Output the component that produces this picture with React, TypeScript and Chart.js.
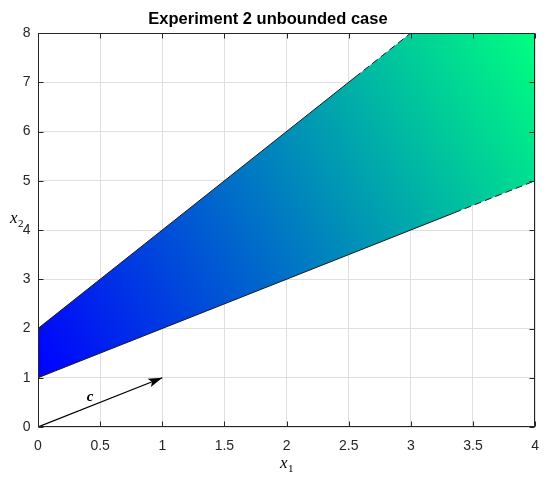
import React, { useEffect, useRef } from "react";
import { Chart, registerables } from "chart.js";

Chart.register(...registerables);

// Feasible region vertices (x1, x2), closed polygon
const regionX = [0, 0, 3, 4, 4, 0];
const regionY = [1, 2, 8, 8, 5, 1];

// Boundary lines: solid parts and dashed (unbounded direction) parts
const upperSolidX = [0, 2.55];
const upperSolidY = [2, 7.1];
const upperDashX = [2.55, 3];
const upperDashY = [7.1, 8];
const lowerSolidX = [0, 3.35];
const lowerSolidY = [1, 4.35];
const lowerDashX = [3.35, 4];
const lowerDashY = [4.35, 5];

// Cost vector arrow c
const arrowX = [0, 1];
const arrowY = [0, 1];
const cLabelX = 0.42;
const cLabelY = 0.6;

// Ticks
const xTicks = [0, 0.5, 1, 1.5, 2, 2.5, 3, 3.5, 4];
const xTickLabels = ["0", "0.5", "1", "1.5", "2", "2.5", "3", "3.5", "4"];
const yTicks = [0, 1, 2, 3, 4, 5, 6, 7, 8];
const yTickLabels = ["0", "1", "2", "3", "4", "5", "6", "7", "8"];

// Colour interpolation weights (colour ~ wX*x1 + wY*x2)
const colorWeightX = 4.5;
const colorWeightY = 1;

const TITLE = "Experiment 2 unbounded case";
const AXIS = "#262626";
const GRID = "#dfdfdf";
const TICK_FONT = { family: "'Liberation Sans', Arial, sans-serif", size: 14 };

function pts(xs: number[], ys: number[]) {
  return xs.map((x, i) => ({ x, y: ys[i] }));
}

function regionGradient(chart: any) {
  const { ctx, chartArea, scales } = chart;
  if (!chartArea || !scales.x || !scales.y) return "rgb(0,0,255)";
  const xs = scales.x;
  const ys = scales.y;
  const sx = xs.getPixelForValue(1) - xs.getPixelForValue(0);
  const sy = ys.getPixelForValue(0) - ys.getPixelForValue(1);
  const vals = regionX.map((x, i) => colorWeightX * x + colorWeightY * regionY[i]);
  const fmin = Math.min(...vals);
  const fmax = Math.max(...vals);
  const iMin = vals.indexOf(fmin);
  const p0x = xs.getPixelForValue(regionX[iMin]);
  const p0y = ys.getPixelForValue(regionY[iMin]);
  const gx = colorWeightX / sx;
  const gy = -colorWeightY / sy;
  const k = (fmax - fmin) / (gx * gx + gy * gy);
  const g = ctx.createLinearGradient(p0x, p0y, p0x + gx * k, p0y + gy * k);
  g.addColorStop(0, "rgb(0,0,255)");
  g.addColorStop(1, "rgb(0,255,128)");
  return g;
}

const overlayPlugin = {
  id: "overlay",
  afterDatasetsDraw(chart: any) {
    const { ctx, chartArea, scales } = chart;
    const xs = scales.x;
    const ys = scales.y;
    const { left, right, top, bottom } = chartArea;
    ctx.save();

    // Arrow head
    const x0 = xs.getPixelForValue(arrowX[0]);
    const y0 = ys.getPixelForValue(arrowY[0]);
    const x1 = xs.getPixelForValue(arrowX[1]);
    const y1 = ys.getPixelForValue(arrowY[1]);
    const ang = Math.atan2(y1 - y0, x1 - x0);
    const hl = 14;
    const hw = 4.5;
    const notch = 3;
    const cos = Math.cos(ang);
    const sin = Math.sin(ang);
    const bx = x1 - hl * cos;
    const by = y1 - hl * sin;
    ctx.fillStyle = "#000";
    ctx.beginPath();
    ctx.moveTo(x1, y1);
    ctx.lineTo(bx - hw * sin, by + hw * cos);
    ctx.lineTo(bx + notch * cos, by + notch * sin);
    ctx.lineTo(bx + hw * sin, by - hw * cos);
    ctx.closePath();
    ctx.fill();

    // c label
    ctx.font = "bold italic 15px 'Liberation Serif', serif";
    ctx.fillStyle = "#000";
    ctx.textAlign = "center";
    ctx.textBaseline = "alphabetic";
    ctx.fillText("c", xs.getPixelForValue(cLabelX), ys.getPixelForValue(cLabelY) + 4);

    // Box
    ctx.strokeStyle = AXIS;
    ctx.lineWidth = 1;
    const L = Math.round(left) + 0.5;
    const R = Math.round(right) - 0.5;
    const T = Math.round(top) + 0.5;
    const B = Math.round(bottom) - 0.5;
    ctx.strokeRect(L, T, R - L, B - T);

    // Inward ticks on all four sides
    const tl = 5;
    ctx.beginPath();
    xs.ticks.forEach((t: any) => {
      const px = Math.round(xs.getPixelForValue(t.value)) + 0.5;
      ctx.moveTo(px, B);
      ctx.lineTo(px, B - tl);
      ctx.moveTo(px, T);
      ctx.lineTo(px, T + tl);
    });
    ys.ticks.forEach((t: any) => {
      const py = Math.round(ys.getPixelForValue(t.value)) + 0.5;
      ctx.moveTo(L, py);
      ctx.lineTo(L + tl, py);
      ctx.moveTo(R, py);
      ctx.lineTo(R - tl, py);
    });
    ctx.stroke();

    // Axis labels x1 and x2
    const mainFont = "italic 17px 'Liberation Serif', serif";
    const subFont = "11px 'Liberation Serif', serif";
    ctx.fillStyle = "#000";
    ctx.textAlign = "left";
    ctx.textBaseline = "alphabetic";

    ctx.font = mainFont;
    const wx = ctx.measureText("x").width;
    ctx.font = subFont;
    const w1 = ctx.measureText("1").width;
    const cx = (left + right) / 2;
    const bx1 = cx - (wx + w1) / 2;
    const base1 = bottom + 41;
    ctx.font = mainFont;
    ctx.fillText("x", bx1, base1);
    ctx.font = subFont;
    ctx.fillText("1", bx1 + wx + 0.5, base1 + 3.5);

    const base2 = (top + bottom) / 2 - 7;
    ctx.font = mainFont;
    ctx.fillText("x", 10, base2);
    ctx.font = subFont;
    ctx.fillText("2", 10 + wx + 0.5, base2 + 3.5);

    ctx.restore();
  },
};

export default function App() {
  const ref = useRef<HTMLCanvasElement | null>(null);

  useEffect(() => {
    if (!ref.current) return;
    const lineStyle = {
      showLine: true,
      pointRadius: 0,
      borderColor: "#1a1a1a",
      borderWidth: 1,
      fill: false,
      order: 0,
    };
    const chart = new Chart(ref.current, {
      type: "scatter",
      data: {
        datasets: [
          { ...lineStyle, label: "upper", data: pts(upperSolidX, upperSolidY) },
          { ...lineStyle, label: "upperDash", data: pts(upperDashX, upperDashY), borderDash: [7, 4] },
          { ...lineStyle, label: "lower", data: pts(lowerSolidX, lowerSolidY) },
          { ...lineStyle, label: "lowerDash", data: pts(lowerDashX, lowerDashY), borderDash: [7, 4] },
          { ...lineStyle, label: "c", data: pts(arrowX, arrowY), borderColor: "#000", borderWidth: 1.2 },
          {
            label: "region",
            data: pts(regionX, regionY),
            showLine: true,
            pointRadius: 0,
            borderWidth: 0,
            borderColor: "rgba(0,0,0,0)",
            fill: "shape",
            backgroundColor: (c: any) => regionGradient(c.chart),
            order: 10,
          } as any,
        ],
      },
      options: {
        responsive: false,
        animation: false,
        devicePixelRatio: 1,
        layout: { padding: { left: 0, right: 14, top: 0, bottom: 0 } },
        plugins: {
          legend: { display: false },
          tooltip: { enabled: false },
          title: {
            display: true,
            text: TITLE,
            color: "#000",
            font: { family: "'Liberation Sans', Arial, sans-serif", size: 16.5, weight: "bold" },
            padding: { top: 9.6, bottom: 3.6 },
          },
        },
        scales: {
          x: {
            type: "linear",
            min: 0,
            max: 4,
            afterBuildTicks: (s: any) => {
              s.ticks = xTicks.map((v) => ({ value: v }));
            },
            afterFit: (s: any) => {
              s.height = 53;
            },
            ticks: {
              font: TICK_FONT,
              color: AXIS,
              padding: 11,
              maxRotation: 0,
              autoSkip: false,
              callback: (_v: any, i: number) => xTickLabels[i],
            },
            grid: { color: GRID, drawTicks: false, lineWidth: 1 },
            border: { display: false },
          },
          y: {
            type: "linear",
            min: 0,
            max: 8,
            afterBuildTicks: (s: any) => {
              s.ticks = yTicks.map((v) => ({ value: v }));
            },
            afterFit: (s: any) => {
              s.width = 38;
            },
            ticks: {
              font: TICK_FONT,
              color: AXIS,
              padding: 7.5,
              autoSkip: false,
              callback: (_v: any, i: number) => yTickLabels[i],
            },
            grid: { color: GRID, drawTicks: false, lineWidth: 1 },
            border: { display: false },
          },
        },
      } as any,
      plugins: [overlayPlugin],
    });
    return () => chart.destroy();
  }, []);

  return (
    <div style={{ position: "fixed", left: 0, top: 0, width: 550, height: 480, background: "#fff" }}>
      <canvas ref={ref} width={550} height={480} style={{ display: "block" }} />
    </div>
  );
}
